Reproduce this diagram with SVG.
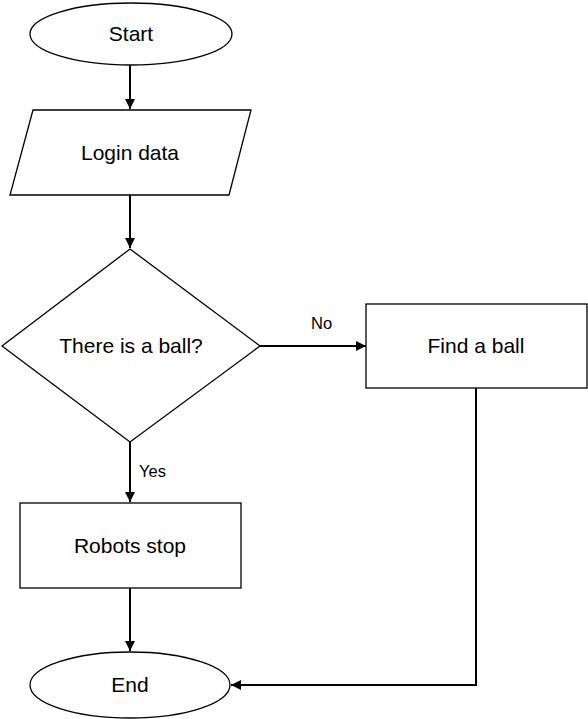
<svg xmlns="http://www.w3.org/2000/svg" width="588" height="719" viewBox="0 0 588 719">
<defs>
<marker id="arr" viewBox="0 0 10 10" refX="10" refY="5" markerWidth="10" markerHeight="10" markerUnits="userSpaceOnUse" orient="auto">
<path d="M0,0 L10,5 L0,10 Z" fill="#000"/>
</marker>
<style>
.shape{fill:#fff;stroke:#000;stroke-width:1.3}
.lbl{font-family:"Liberation Sans",Arial,sans-serif;font-size:21px;fill:#000;text-anchor:middle}
.sm{font-family:"Liberation Sans",Arial,sans-serif;font-size:16.5px;fill:#000}
.conn{fill:none;stroke:#000;stroke-width:2;marker-end:url(#arr)}
</style>
</defs>
<rect width="588" height="719" fill="#fff"/>
<g id="connectors">
<line class="conn" x1="130" y1="65" x2="130" y2="109"/>
<line class="conn" x1="130" y1="195" x2="130" y2="248"/>
<line class="conn" x1="260" y1="346" x2="366" y2="346"/>
<line class="conn" x1="130" y1="442" x2="130" y2="502"/>
<line class="conn" x1="130" y1="588" x2="130" y2="651"/>
<polyline class="conn" points="476,388 476,685 231,685"/>
<text class="sm" x="311" y="329">No</text>
<text class="sm" x="139" y="477">Yes</text>
</g>
<g id="start">
<ellipse class="shape" cx="131" cy="34" rx="101" ry="31"/>
<text class="lbl" x="131" y="41">Start</text>
</g>
<g id="login">
<polygon class="shape" points="33,110 251,110 229,195 10,195"/>
<text class="lbl" x="130" y="160">Login data</text>
</g>
<g id="decision">
<polygon class="shape" points="130,249 260,346 130,442 2,346"/>
<text class="lbl" x="131" y="353">There is a ball?</text>
</g>
<g id="find">
<rect class="shape" x="366" y="304" width="221" height="84"/>
<text class="lbl" x="476" y="353">Find a ball</text>
</g>
<g id="robots">
<rect class="shape" x="20" y="503" width="221" height="85"/>
<text class="lbl" x="130" y="553">Robots stop</text>
</g>
<g id="end">
<ellipse class="shape" cx="130" cy="685" rx="100" ry="33"/>
<text class="lbl" x="130" y="692">End</text>
</g>
</svg>
